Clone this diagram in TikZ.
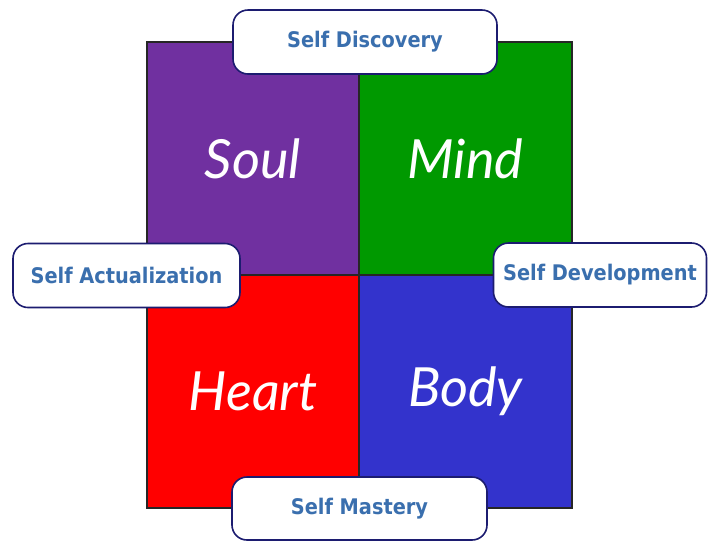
\documentclass[tikz,border=0pt]{standalone}
\usepackage{fontspec}
\setmainfont{DejaVu Sans}
\newfontfamily\labelfont{DejaVu Sans Condensed}
\newfontfamily\handfont{Lato}
\usetikzlibrary{positioning}
\definecolor{soulpurple}{HTML}{7030A0}
\definecolor{mindgreen}{HTML}{009900}
\definecolor{heartred}{HTML}{FF0000}
\definecolor{bodyblue}{HTML}{3333CC}
\definecolor{selfblue}{HTML}{3A6FAE}
\definecolor{selfnavy}{HTML}{1C1C70}

\tikzset{
  quad/.style={draw=black!85, line width=1.2pt, minimum width=212pt, minimum height=233pt,
    inner sep=0pt, text=white, font=\handfont\itshape\fontsize{54}{58}\selectfont},
  selfbox/.style={draw=selfnavy, line width=1.6pt, fill=white, rounded corners=15pt,
    minimum height=64pt, inner sep=0pt, text=selfblue,
    font=\labelfont\bfseries\fontsize{21.5}{24}\selectfont}
}

\begin{document}
\begin{tikzpicture}[x=1pt, y=-1pt]
    \useasboundingbox[fill=white] (0,0) rectangle (708,542);
    % four quadrants
    \node[quad, fill=soulpurple] (soul) at (253,158.5) {Soul};
    \node[quad, fill=mindgreen, minimum width=213pt] (mind) at (465.5,158.5) {Mind};
    \node[quad, fill=heartred] (heart) at (253,391.5) {Heart};
    \node[quad, fill=bodyblue, minimum width=213pt] (body) at (465.5,391.5) {Body};
    % labels on the edges
    \node[selfbox, minimum width=264pt] (discovery) at (365,42) {Self Discovery};
    \node[selfbox, minimum width=227pt] (actual) at (126.5,275.5) {Self Actualization};
    \node[selfbox, minimum width=213pt] (develop) at (600,275) {Self Development};
    \node[selfbox, minimum width=255pt, minimum height=63pt] (mastery) at (359.5,508.5) {Self Mastery};
\end{tikzpicture}
\end{document}
